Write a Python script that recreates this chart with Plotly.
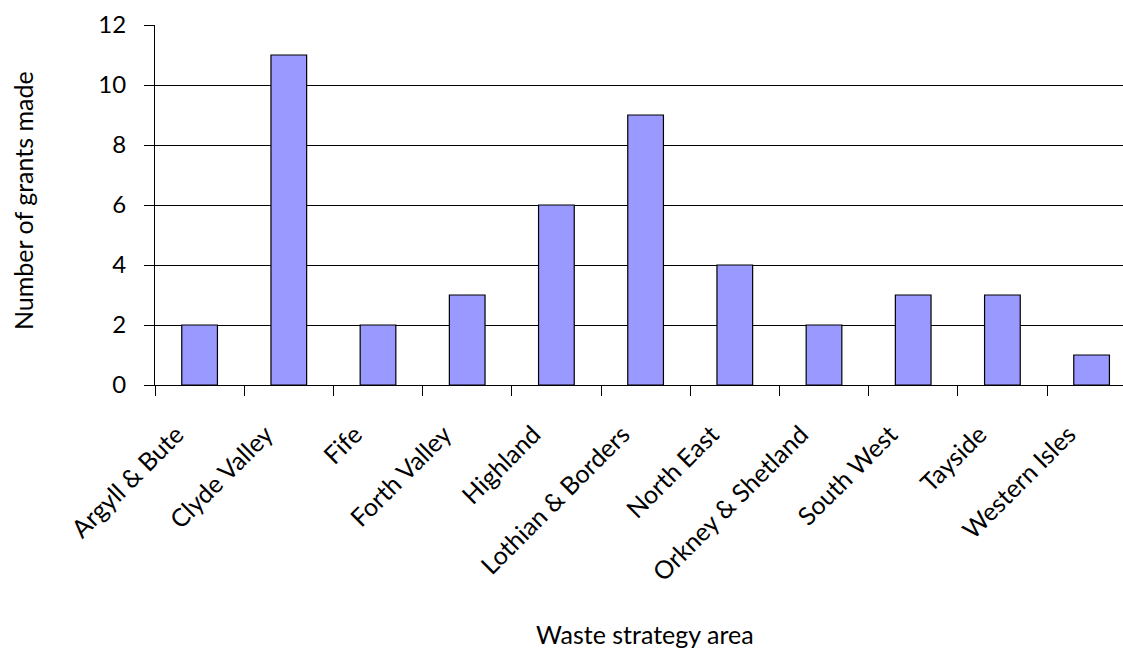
import plotly.graph_objects as go

categories = ["Argyll & Bute", "Clyde Valley", "Fife", "Forth Valley", "Highland",
              "Lothian & Borders", "North East", "Orkney & Shetland", "South West",
              "Tayside", "Western Isles"]
grants = [2, 11, 2, 3, 6, 9, 4, 2, 3, 3, 1]
y_ticks = [0, 2, 4, 6, 8, 10, 12]

FONT = "Lato"
W, H = 1123, 649
L, R, T, B = 155, 0, 25, 264
pw = W - L - R
ph = H - T - B
cat_w = 89.2

fig = go.Figure(go.Bar(
    x=categories, y=grants,
    marker=dict(color="#9999FF", line=dict(color="black", width=1.2)),
    width=0.4,
))

fig.update_layout(
    width=W, height=H,
    margin=dict(l=L, r=R, t=T, b=B, pad=0),
    plot_bgcolor="white", paper_bgcolor="white",
    showlegend=False,
    font=dict(family=FONT, size=20, color="black"),
    xaxis=dict(
        range=[-0.5, -0.5 + pw / cat_w],
        tickangle=-45,
        tickson="boundaries",
        ticks="outside", ticklen=10, tickcolor="black", tickwidth=1,
        showline=True, linecolor="black", linewidth=1,
        showgrid=False,
        ticklabelstandoff=24,
        ticklabelshift=-23,
        tickfont=dict(family=FONT, size=25, color="black"),
    ),
    yaxis=dict(
        range=[0, 12],
        tickvals=y_ticks,
        ticks="outside", ticklen=10, tickcolor="black", tickwidth=1,
        showline=True, linecolor="black", linewidth=1,
        showgrid=True, gridcolor="black", gridwidth=1,
        ticklabelstandoff=13,
        tickfont=dict(family=FONT, size=24, color="black"),
        zeroline=False,
    ),
    annotations=[
        dict(text="Number of grants made", xref="paper", yref="paper",
             x=(23 - L) / pw, y=(H - B - 201) / ph, textangle=-90,
             showarrow=False, xanchor="center", yanchor="middle",
             font=dict(family=FONT, size=25, color="black")),
        dict(text="Waste strategy area", xref="paper", yref="paper",
             x=(645 - L) / pw, y=(H - B - 634) / ph,
             showarrow=False, xanchor="center", yanchor="middle",
             font=dict(family=FONT, size=25, color="black")),
    ],
)

fig.write_html("out.html")
